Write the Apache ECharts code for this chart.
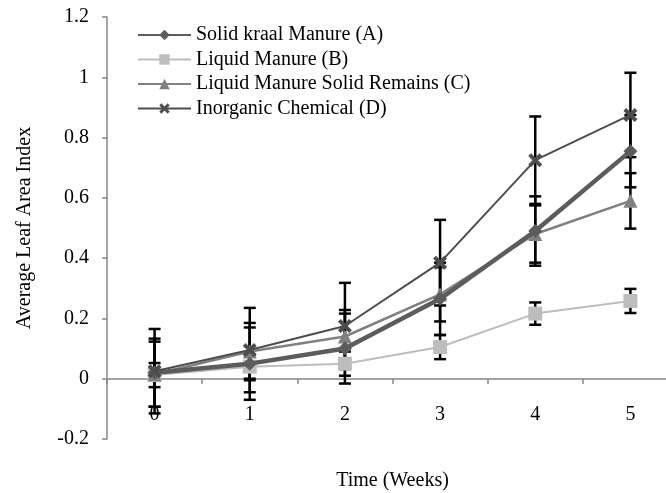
<!DOCTYPE html>
<html>
<head>
<meta charset="utf-8">
<script src="https://cdn.jsdelivr.net/npm/echarts@6/dist/echarts.min.js"></script>
<style>
  html, body { margin: 0; padding: 0; background: #fff; }
  #chart { width: 666px; height: 493px; }
</style>
</head>
<body>
<div id="chart"></div>
<script>
// weeks
var weeks = ['0', '1', '2', '3', '4', '5'];

// mean leaf area index per treatment
var solidKraal   = [0.020, 0.050, 0.100, 0.265, 0.490, 0.755];
var liquid       = [0.012, 0.040, 0.050, 0.105, 0.216, 0.258];
var liquidSolid  = [0.015, 0.090, 0.140, 0.280, 0.480, 0.590];
var inorganic    = [0.025, 0.095, 0.175, 0.385, 0.725, 0.875];

// error bar half lengths (+/-)
var errSolidKraal  = [0.113, 0.120, 0.116, 0.120, 0.115, 0.120];
var errLiquid      = [0.040, 0.040, 0.040, 0.040, 0.037, 0.040];
var errLiquidSolid = [0.108, 0.095, 0.088, 0.090, 0.095, 0.092];
var errInorganic   = [0.140, 0.140, 0.143, 0.142, 0.145, 0.140];

var names = ['Solid kraal Manure (A)', 'Liquid Manure (B)', 'Liquid Manure Solid Remains (C)', 'Inorganic Chemical (D)'];

var font = 'Liberation Serif';
var axisColor = '#878787';

var chart = echarts.init(document.getElementById('chart'));

// build [x, low, high] rows for error bars
function errRows(means, errs) {
  return means.map(function (m, i) { return [i, m - errs[i], m + errs[i]]; });
}

function renderErr(params, api) {
  var x = api.value(0);
  var top = api.coord([x, api.value(2)]);
  var bot = api.coord([x, api.value(1)]);
  var w = 6;
  var st = { stroke: '#000', lineWidth: 2.5 };
  return {
    type: 'group',
    children: [
      { type: 'line', shape: { x1: top[0], y1: top[1], x2: bot[0], y2: bot[1] }, style: st },
      { type: 'line', shape: { x1: top[0] - w, y1: top[1], x2: top[0] + w, y2: top[1] }, style: st },
      { type: 'line', shape: { x1: bot[0] - w, y1: bot[1], x2: bot[0] + w, y2: bot[1] }, style: st }
    ]
  };
}

function errSeries(means, errs) {
  return {
    type: 'custom',
    renderItem: renderErr,
    data: errRows(means, errs),
    encode: { x: 0, y: [1, 2] },
    z: 1,
    silent: true
  };
}

var crossPath = 'path://M2,0 L5,3 L8,0 L10,2 L7,5 L10,8 L8,10 L5,7 L2,10 L0,8 L3,5 L0,2 Z';

chart.setOption({
  animation: false,
  textStyle: { fontFamily: font },
  grid: { left: 107, top: 17, right: -12, bottom: 54, outerBoundsMode: 'none', containLabel: false },
  legend: {
    orient: 'vertical',
    left: 132,
    top: 20,
    itemWidth: 53,
    itemHeight: 13,
    itemGap: 4.5,
    data: names,
    textStyle: { fontFamily: font, fontSize: 20, color: '#000' }
  },
  xAxis: {
    type: 'category',
    data: weeks,
    boundaryGap: true,
    position: 'bottom',
    offset: -60,
    name: 'Time (Weeks)',
    nameLocation: 'middle',
    nameGap: 92,
    nameTextStyle: { fontFamily: font, fontSize: 20, color: '#000' },
    axisLine: { onZero: false, lineStyle: { color: axisColor, width: 1.5 } },
    axisTick: { show: true, length: 5, interval: 0, lineStyle: { color: axisColor, width: 1.5 } },
    axisLabel: { fontFamily: font, fontSize: 20, color: '#000', margin: 26 },
    splitLine: { show: false }
  },
  yAxis: {
    type: 'value',
    min: -0.2,
    max: 1.2,
    interval: 0.2,
    name: 'Average Leaf Area Index',
    nameLocation: 'middle',
    nameGap: 72,
    nameTextStyle: { fontFamily: font, fontSize: 20, color: '#000' },
    axisLine: { show: true, lineStyle: { color: axisColor, width: 1.5 } },
    axisTick: { show: true, length: 5, lineStyle: { color: axisColor, width: 1.5 } },
    axisLabel: {
      fontFamily: font, fontSize: 20, color: '#000', margin: 18,
      formatter: function (v) { return String(Math.round(v * 10) / 10); }
    },
    splitLine: { show: false }
  },
  series: [
    errSeries(solidKraal, errSolidKraal),
    errSeries(liquid, errLiquid),
    errSeries(liquidSolid, errLiquidSolid),
    errSeries(inorganic, errInorganic),
    {
      name: names[0], type: 'line', data: solidKraal, z: 5,
      symbol: 'diamond', symbolSize: 14,
      lineStyle: { color: '#5c5c5c', width: 4.5 },
      itemStyle: { color: '#5c5c5c' }
    },
    {
      name: names[1], type: 'line', data: liquid, z: 4,
      symbol: 'rect', symbolSize: 14,
      lineStyle: { color: '#bdbdbd', width: 2 },
      itemStyle: { color: '#bdbdbd' }
    },
    {
      name: names[2], type: 'line', data: liquidSolid, z: 4,
      symbol: 'triangle', symbolSize: 14,
      lineStyle: { color: '#808080', width: 2.5 },
      itemStyle: { color: '#808080' }
    },
    {
      name: names[3], type: 'line', data: inorganic, z: 6,
      symbol: crossPath, symbolSize: 14,
      lineStyle: { color: '#4d4d4d', width: 2 },
      itemStyle: { color: '#4d4d4d' }
    }
  ]
});
</script>
</body>
</html>
